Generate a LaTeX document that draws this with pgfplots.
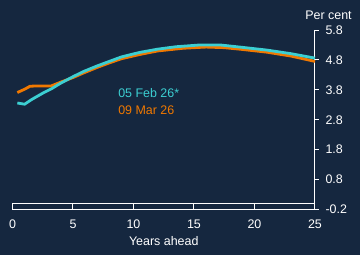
\documentclass[border=0pt]{standalone}
\usepackage{pgfplots}
\pgfplotsset{compat=1.18}
\usepackage{fontspec}
\setmainfont{Liberation Sans}
\usetikzlibrary{backgrounds}
\definecolor{bg}{HTML}{15273F}
\definecolor{cyanl}{HTML}{3CCFD2}
\definecolor{orangel}{HTML}{F07800}
\begin{document}
\begin{tikzpicture}
\begin{axis}[
  scale only axis, width=302.5bp, height=179.5bp,
  xmin=0, xmax=25, ymin=-0.2, ymax=5.8,
  axis x line*=bottom, axis y line*=right,
  axis line style={white, line width=1bp},
  xtick={0,5,...,25}, ytick={-0.2,0.8,1.8,2.8,3.8,4.8,5.8},
  yticklabels={-0.2,0.8,1.8,2.8,3.8,4.8,5.8},
  xtick style={draw=none},
  ytick style={white, line width=1bp},
  tick align=outside, major tick length=4bp,
  ticklabel style={white, font=\fontsize{12.5}{15}\selectfont},
  /pgf/number format/assume math mode=true,
  xticklabel style={yshift=-3bp},
  yticklabel style={xshift=3bp},
  xlabel={Years ahead}, xlabel style={white, font=\fontsize{12.5}{15}\selectfont, yshift=-1bp},
  clip=false,
]
\draw[white, line width=1bp] (axis cs:0,0) -- (axis cs:25,0);
\pgfplotsinvokeforeach{0,5,10,15,20,25}{ \draw[white, line width=1bp] (axis cs:#1,-0.2) -- (axis cs:#1,0); }
\addplot[orangel, line width=2.8bp] coordinates {
(0.4,3.71) (1.0,3.82) (1.45,3.92) (2.0,3.93) (3.2,3.93) (4.0,4.06) (5.0,4.21) (5.85,4.36) (7.0,4.55) (8.0,4.70) (9.0,4.84) (10.5,4.98) (12.0,5.10) (14.1,5.19) (16.0,5.23) (17.5,5.21) (19.0,5.15) (21.0,5.06) (23.0,4.93) (25.0,4.75)};
\addplot[cyanl, line width=2.8bp] coordinates {
(0.4,3.36) (1.0,3.32) (1.6,3.48) (2.55,3.70) (3.2,3.83) (3.93,4.01) (5.0,4.24) (5.85,4.41) (7.0,4.60) (8.06,4.76) (9.0,4.90) (10.5,5.05) (12.0,5.16) (13.5,5.24) (15.5,5.30) (17.15,5.30) (19.0,5.22) (21.0,5.13) (23.0,5.01) (25.0,4.86)};
\node[anchor=west, cyanl, font=\fontsize{12.5}{15}\selectfont] at (axis cs:8.45,3.7) {05 Feb 26*};
\node[anchor=west, orangel, font=\fontsize{12.5}{15}\selectfont] at (axis cs:8.45,3.13) {09 Mar 26};
\end{axis}
\node[anchor=base, white, font=\fontsize{12.5}{15}\selectfont] at (316bp,190bp) {Per cent};
\begin{scope}[on background layer]
\fill[bg] (-12.5bp,-45.5bp) rectangle (347.5bp,209.5bp);
\end{scope}
\end{tikzpicture}
\end{document}
